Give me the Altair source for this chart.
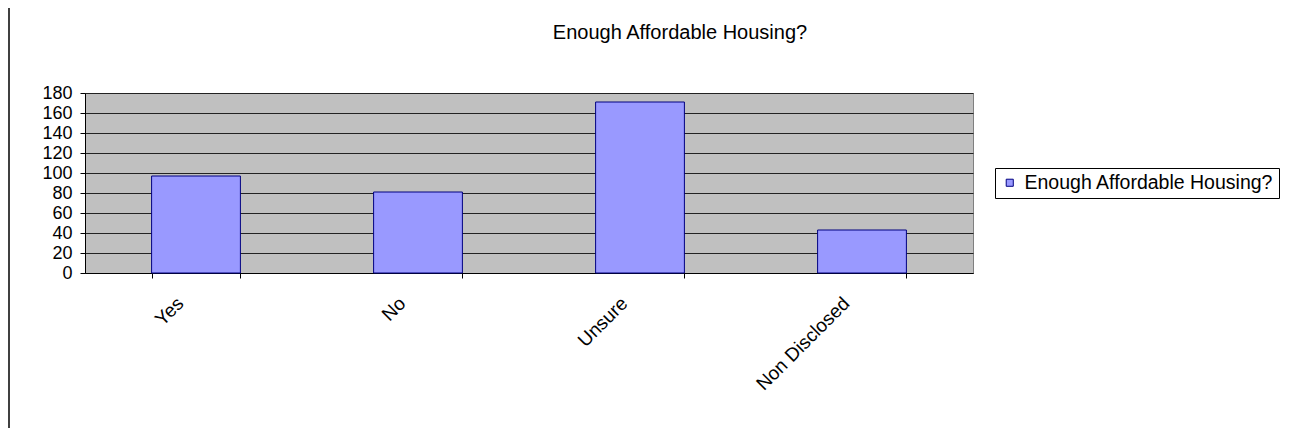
import altair as alt
import pandas as pd

categories = ["Yes", "No", "Unsure", "Non Disclosed"]
values = [97, 81, 171, 43]
series_name = "Enough Affordable Housing?"
y_ticks = [0, 20, 40, 60, 80, 100, 120, 140, 160, 180]

df = pd.DataFrame({"category": categories, "value": values, "series": [series_name] * len(categories)})

FONT = "Liberation Sans"

bars = alt.Chart(df).mark_bar(stroke="#000080", strokeWidth=1).encode(
    x=alt.X("category:N", sort=categories, title=None,
            scale=alt.Scale(paddingInner=0.6, paddingOuter=0.3),
            axis=alt.Axis(labelAngle=-45, labelAlign="right", labelBaseline="middle",
                          labelPadding=22, labelOffset=-16, tickBand="extent",
                          tickSize=5, tickColor="#000", domainColor="#000",
                          labelFontSize=19, labelFont=FONT, labelColor="#000",
                          grid=False)),
    y=alt.Y("value:Q", title=None,
            scale=alt.Scale(domain=[0, 180], nice=False),
            axis=alt.Axis(values=y_ticks, tickSize=5, labelPadding=8, tickColor="#000",
                          domainColor="#000", labelFontSize=18, labelFont=FONT,
                          labelColor="#000", grid=True, gridColor="#222", gridWidth=1)),
    color=alt.Color("series:N", scale=alt.Scale(range=["#9999FF"]),
                    legend=alt.Legend(title=None, orient="none", legendX=910, legendY=75,
                                      symbolType="square", symbolSize=50,
                                      symbolStrokeColor="#000080", symbolStrokeWidth=1,
                                      labelFontSize=19.5, labelFont=FONT, labelColor="#000",
                                      labelLimit=0, labelOffset=5,
                                      strokeColor="#000", fillColor="#fff", padding=5,
                                      cornerRadius=0)),
)

border = alt.Chart(df).mark_rule(color="#404040", strokeWidth=2).encode(
    x=alt.value(-76), y=alt.value(-90), y2=alt.value(345)
)

chart = alt.layer(border, bars).properties(
    width=888, height=180,
    autosize=alt.AutoSizeParams(type="none"),
    padding={"left": 77, "top": 85, "right": 315, "bottom": 155},
    title=alt.TitleParams(series_name, font=FONT, fontSize=20, fontWeight="normal",
                          color="#000", anchor="middle", dx=151, offset=-41),
).configure_view(
    fill="#C0C0C0", stroke="#808080", strokeWidth=1
)

chart.save("out.html", embed_options={"renderer": "svg", "actions": False})
